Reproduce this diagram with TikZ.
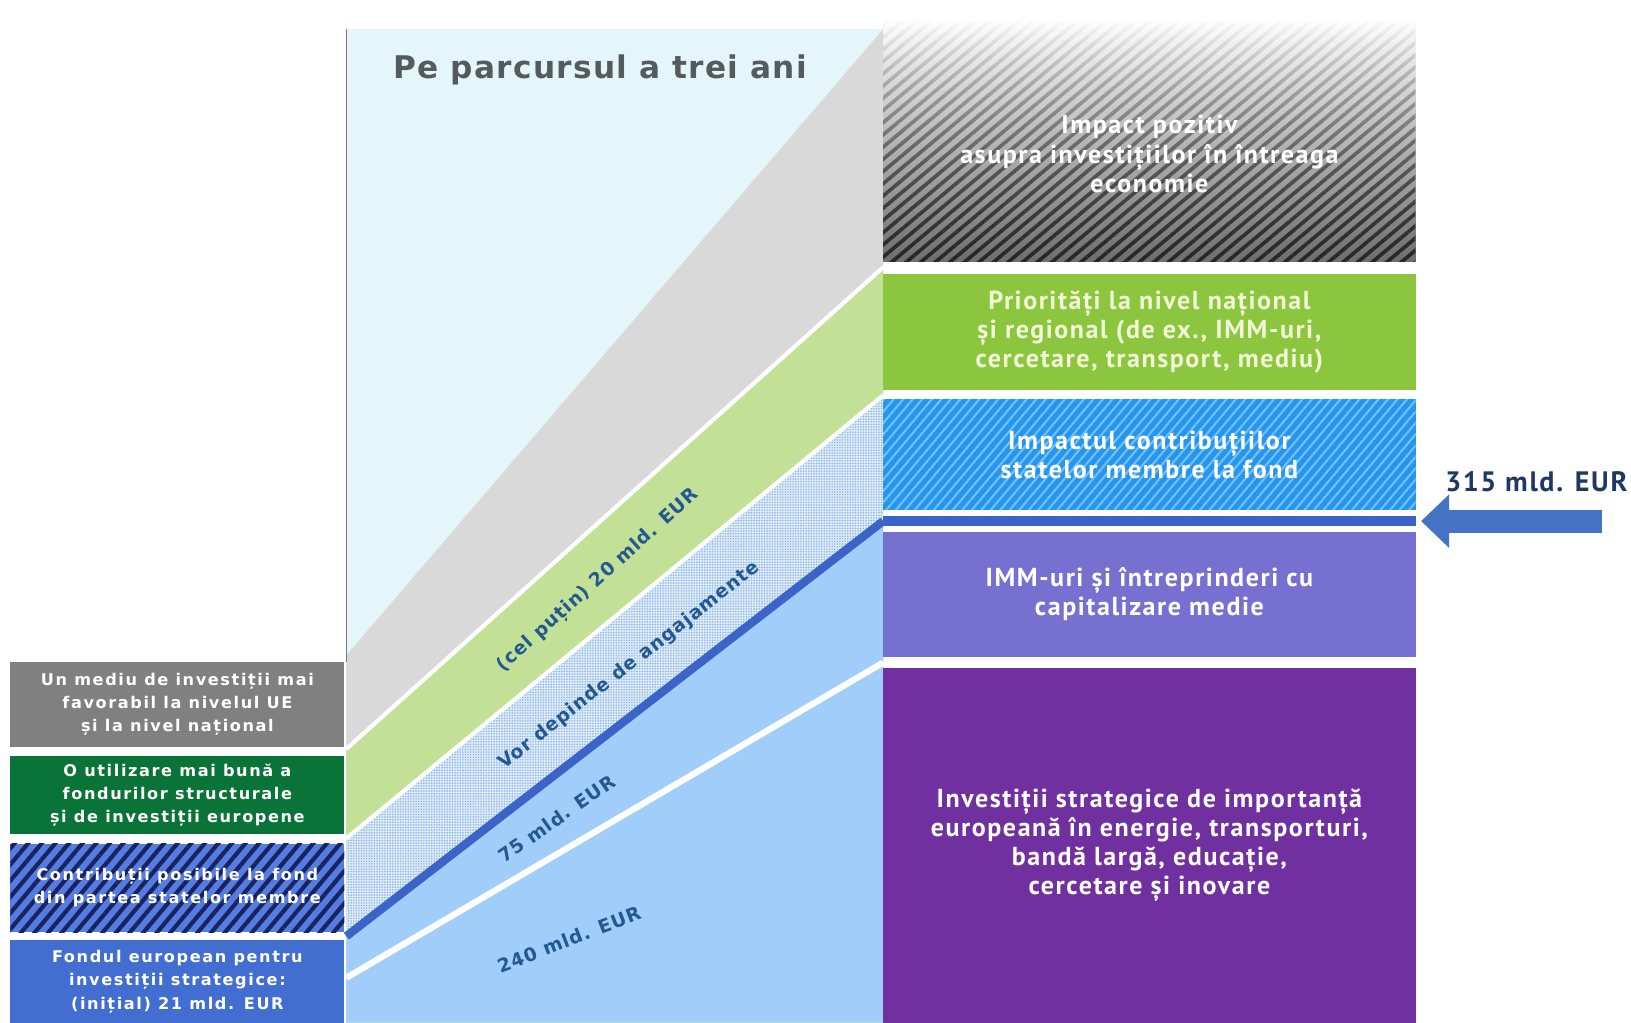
\documentclass[tikz,border=0pt]{standalone}
\usepackage{fontspec}
\setmainfont{DejaVu Sans}
\newfontfamily\boxfont[LetterSpace=6]{PT Sans}
\newfontfamily\leftfont[LetterSpace=10]{DejaVu Sans}
\newfontfamily\labelfont[LetterSpace=5]{DejaVu Sans}
\newfontfamily\titlefont[LetterSpace=4]{DejaVu Sans}
\usetikzlibrary{arrows.meta,patterns.meta,fadings}

\definecolor{cyanbg}{RGB}{228,246,250}
\definecolor{wedgegray}{RGB}{217,217,217}
\definecolor{bandgreen}{RGB}{195,225,150}
\definecolor{banddots}{RGB}{222,236,250}
\definecolor{dotblue}{RGB}{140,180,228}
\definecolor{lightblue}{RGB}{160,205,250}
\definecolor{darkline}{RGB}{60,100,200}
\definecolor{frame}{RGB}{120,120,120}
\definecolor{titlegray}{RGB}{85,90,95}
\definecolor{labelblue}{RGB}{35,88,145}
\definecolor{leftgray}{RGB}{128,128,128}
\definecolor{leftgreen}{RGB}{10,115,55}
\definecolor{lefthatch}{RGB}{85,125,225}
\definecolor{navy}{RGB}{25,35,95}
\definecolor{leftblue}{RGB}{66,110,210}
\definecolor{impactgray}{RGB}{110,110,110}
\definecolor{rightgreen}{RGB}{140,198,63}
\definecolor{paleyellow}{RGB}{242,248,215}
\definecolor{rightblue}{RGB}{35,150,240}
\definecolor{stripeblue}{RGB}{120,190,250}
\definecolor{immviolet}{RGB}{118,112,208}
\definecolor{stratpurple}{RGB}{112,48,160}
\definecolor{arrowblue}{RGB}{68,114,196}
\definecolor{totalnavy}{RGB}{31,56,100}

\tikzfading[name=fadeup, top color=transparent!100, bottom color=transparent!0]

\tikzset{
	leftbox/.style={minimum width=321pt, inner sep=0pt, text=white, align=center,
		font=\leftfont\fontsize{15.5}{22.5}\selectfont\bfseries},
	rightbox/.style={minimum width=512pt, inner sep=0pt, text=white, align=center,
		font=\boxfont\fontsize{25}{28}\selectfont\bfseries},
	slanted/.style={text=labelblue, font=\labelfont\fontsize{18}{20}\selectfont\bfseries},
	bigarrow/.style={draw=arrowblue, line width=22pt, -{Triangle[length=27pt,width=50pt]}, shorten >=5pt},
}

\begin{document}
\begin{tikzpicture}[x=1pt,y=-1pt]
	\useasboundingbox (0,0) rectangle (1568,983);
	\fill[cyanbg] (333,28) rectangle (849,983);
	\fill[wedgegray] (333,630) -- (849,28) -- (849,983) -- (333,983) -- cycle;
	\fill[bandgreen] (333,720) -- (849,257) -- (849,983) -- (333,983) -- cycle;
	\fill[banddots] (333,806) -- (849,380) -- (849,983) -- (333,983) -- cycle;
	\fill[pattern={Dots[distance=2.5pt,radius=0.85pt]}, pattern color=dotblue] (333,806) -- (849,380) -- (849,501) -- (333,900) -- cycle;
	\fill[lightblue] (333,900) -- (849,501) -- (849,983) -- (333,983) -- cycle;
	\draw[white, line width=4pt] (333,720) -- (849,257);
	\draw[white, line width=4pt] (333,806) -- (849,380);
	\draw[white, line width=6pt] (333,940) -- (849,637);
	\draw[darkline, line width=8pt] (333,900) -- (849,501);
	\draw[frame, line width=1.5pt] (333,28) -- (333,636);

	\node[text=titlegray, font=\titlefont\fontsize{30}{34}\selectfont\bfseries] (title) at (577,67) {Pe parcursul a trei ani};

	\node[slanted, rotate=42] (celputin) at (575,558) {(cel puțin) 20 mld. EUR};
	\node[slanted, rotate=38] (depinde) at (605,640) {Vor depinde de angajamente};
	\node[slanted, rotate=35] (mld75) at (535,787) {75 mld. EUR};
	\node[slanted, rotate=21] (mld240) at (547,903) {240 mld. EUR};

	\begin{scope}[every node/.style={leftbox}]
		\node[fill=leftgray, minimum height=82pt] (mediu) at (170.5,677) {Un mediu de investiții mai\\favorabil la nivelul UE\\și la nivel național};
		\node[fill=leftgreen, minimum height=75pt] (fonduri) at (170.5,764.5) {O utilizare mai bună a\\fondurilor structurale\\și de investiții europene};
		\node[preaction={fill=lefthatch}, pattern={Lines[angle=50,distance=10pt,line width=4pt]}, pattern color=navy, minimum height=85pt] (posibile) at (170.5,853.5) {Contribuții posibile la fond\\din partea statelor membre};
		\node[fill=leftblue, minimum height=79pt] (fond) at (170.5,943.5) {Fondul european pentru\\investiții strategice:\\(inițial) 21 mld. EUR};
	\end{scope}

	\begin{scope}[every node/.style={rightbox}]
		\node[shade, top color=white, bottom color=impactgray, minimum height=233pt,
			postaction={pattern={Lines[angle=40,distance=9pt,line width=3.5pt]}, pattern color=black!85, path fading=fadeup}] (impact) at (1105,134.5) {};
		\node (impacttext) at (1105,148) {Impact pozitiv\\asupra investițiilor în întreaga\\economie};
		\node[fill=rightgreen, text=paleyellow, minimum height=112pt] (prio) at (1105,319) {Priorități la nivel național\\și regional (de ex., IMM-uri,\\cercetare, transport, mediu)};
		\node[preaction={fill=rightblue}, pattern={Lines[angle=50,distance=7pt,line width=2pt]}, pattern color=stripeblue, minimum height=106pt] (contrib) at (1105,437) {Impactul contribuțiilor\\statelor membre la fond};
		\node[fill=darkline, minimum height=10pt] (bar) at (1105,501) {};
		\node[fill=immviolet, minimum height=121pt] (imm) at (1105,571.5) {IMM-uri și întreprinderi cu\\capitalizare medie};
		\node[fill=stratpurple, minimum height=341pt] (strat) at (1105,812.5) {Investiții strategice de importanță\\europeană în energie, transporturi,\\bandă largă, educație,\\cercetare și inovare};
	\end{scope}

	\coordinate (arrowstart) at (1540,501);
	\draw[bigarrow] (arrowstart) -- (bar.east);
	\node[text=totalnavy, font=\boxfont\fontsize{27}{30}\selectfont\bfseries] (total) at (1477,463) {315 mld. EUR};
\end{tikzpicture}
\end{document}
